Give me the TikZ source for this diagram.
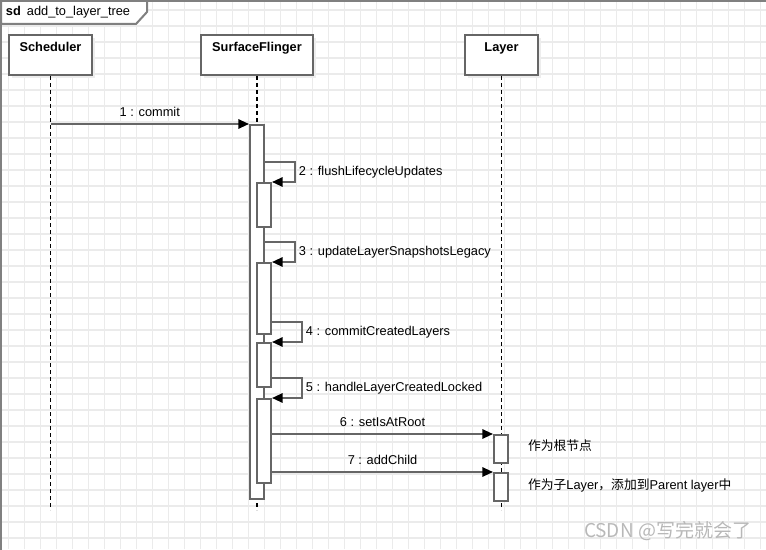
\documentclass[tikz,border=0pt]{standalone}
\usepackage{fontspec}
\setmainfont{Liberation Sans}
\newfontfamily\cjk{Noto Sans CJK SC}
\usetikzlibrary{arrows.meta,shadows}
\definecolor{edge}{HTML}{666666}
\definecolor{gridc}{HTML}{EBEBEB}
\definecolor{framec}{HTML}{808080}
\newcommand\sdsize{\fontsize{9.6pt}{12pt}\selectfont}
\tikzset{
every picture/.style={
line width=1.5pt
}}

\begin{document}
\begin{tikzpicture}[x=0.75pt, y=-0.75pt, font=\sdsize,
head/.style = {rectangle, draw=edge, fill=white, minimum width=#1, inner sep=0pt,
  text height=12.75pt, text depth=17.25pt, font=\sdsize\bfseries, anchor=north,
  general shadow={fill=black!7, shadow xshift=2.5pt, shadow yshift=-2.5pt}},
act/.style = {rectangle, draw=edge, fill=white, minimum width=10.5pt, minimum height=#1,
  inner sep=0pt, anchor=north},
msg/.style = {draw=edge, -{Triangle[length=8pt, width=7pt, color=black]}},
lifeline/.style = {draw=black, line width=0.9pt, dash pattern=on 3pt off 2.25pt},
note/.style = {anchor=west, inner sep=0pt, font=\sdsize\cjk}]

\useasboundingbox (0,0) rectangle (766,549);
\clip (0,0) rectangle (766,549);

% grid
\foreach \x in {8.5,24.5,...,760.5}
  \draw[gridc, line width=1.1pt] (\x,0) -- (\x,549);
\foreach \y in {9.8,25.8,...,541.8}
  \draw[gridc, line width=1.1pt] (0,\y) -- (766,\y);

% frame
\draw[framec] (780,1) -- (1,1) -- (1,560);
\draw[framec, fill=white] (1,1) -- (147,1) -- (147,12) -- (136,24) -- (1,24) -- cycle;
\node[anchor=west, inner sep=0pt] (sd) at (5,12.5) {\textbf{sd}\hspace{4.5pt}add\_to\_layer\_tree};

% lifelines
\node[head=62.25pt] (sch) at (50.5,34) {Scheduler};
\node[head=84pt] (sf) at (257,34) {SurfaceFlinger};
\node[head=54.75pt] (lay) at (501.5,34) {Layer};

\coordinate (bottom) at (0,510);
\draw[lifeline] (sch.south) -- (sch.south |- bottom);
\draw[lifeline] (sf.south) -- (sf.south |- bottom);
\draw[lifeline] (lay.south) -- (lay.south |- bottom);

% activations
\node[act=280.5pt] (a0) at (257,124) {};
\node[act=33pt] (a1) at (264,182) {};
\node[act=53.25pt] (a2) at (264,262) {};
\node[act=33pt] (a3) at (264,342) {};
\node[act=63pt] (a4) at (264,398) {};
\node[act=21pt] (l1) at (501,434) {};
\node[act=21pt] (l2) at (501,472) {};

% messages
\draw[msg] (sch.south |- a0.north) -- (a0.north west)
  node[midway, above, inner sep=4.5pt] {1 : commit};
\draw[msg] ([yshift=15pt]a1.north -| a0.east) -- ++(30,0) -- ++(0,20)
  node[midway, right, inner sep=2.2pt] {2 : flushLifecycleUpdates} -- (a1.north east);
\draw[msg] ([yshift=15pt]a2.north -| a0.east) -- ++(30,0) -- ++(0,20)
  node[midway, right, inner sep=2.2pt] {3 : updateLayerSnapshotsLegacy} -- (a2.north east);
\draw[msg] ([yshift=15pt]a3.north -| a2.east) -- ++(30,0) -- ++(0,20)
  node[midway, right, inner sep=2.2pt] {4 : commitCreatedLayers} -- (a3.north east);
\draw[msg] ([yshift=15pt]a4.north -| a3.east) -- ++(30,0) -- ++(0,20)
  node[midway, right, inner sep=2.2pt] {5 : handleLayerCreatedLocked} -- (a4.north east);
\draw[msg] (a4.east |- l1.north) -- (l1.north west)
  node[midway, above, inner sep=4.5pt] {6 : setIsAtRoot};
\draw[msg] (a4.east |- l2.north) -- (l2.north west)
  node[midway, above, inner sep=4.5pt] {7 : addChild};

% notes
\node[note] (n1) at ([xshift=13.5pt, yshift=2.5pt]l1.east) {作为根节点};
\node[note] (n2) at ([xshift=13.5pt, yshift=1pt]l2.east)
  {作为子{\rmfamily Layer}，添加到{\rmfamily Parent layer}中};

\node[anchor=east, inner sep=0pt, text=black!28, font=\fontsize{14.25pt}{16pt}\selectfont\cjk]
  (mark) at (752,531) {CSDN @写完就会了};
\end{tikzpicture}
\end{document}
